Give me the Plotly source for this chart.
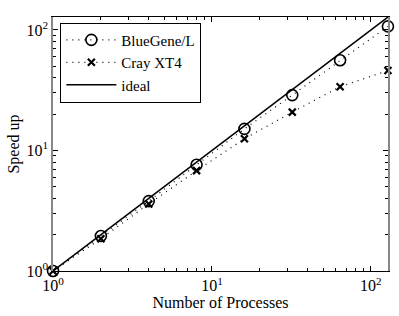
import math
import plotly.graph_objects as go

procs = [1, 2, 4, 8, 16, 32, 64, 128]
bluegene = [1, 1.95, 3.8, 7.6, 15.1, 28.8, 56, 107]
cray = [1, 1.85, 3.6, 6.8, 12.5, 20.8, 33.8, 46]
ideal = [1, 2, 4, 8, 16, 32, 64, 128]

major_vals = [1, 10, 100]
major_text = ["10<sup>0</sup>", "10<sup>1</sup>", "10<sup>2</sup>"]
minor_vals = [m * 10 ** e for e in range(0, 3) for m in range(2, 10) if m * 10 ** e <= 130]

font = "Liberation Serif"
fs = 16
rng = [-0.0003, math.log10(128) + 0.0003]

fig = go.Figure()
fig.add_trace(go.Scatter(x=procs, y=bluegene, name="BlueGene/L", mode="lines+markers", cliponaxis=False,
                         line=dict(color="black", dash="1px,5px", width=1.2),
                         marker=dict(symbol="circle-open", size=11, color="black", line=dict(width=1.6))))
fig.add_trace(go.Scatter(x=procs, y=cray, name="Cray XT4", mode="lines+markers", cliponaxis=False,
                         line=dict(color="black", dash="1px,5px", width=1.2),
                         marker=dict(symbol="x-thin-open", size=7, color="black", line=dict(width=2.2))))
fig.add_trace(go.Scatter(x=procs, y=ideal, name="ideal", mode="lines", cliponaxis=False,
                         line=dict(color="black", width=1.5)))

axis_common = dict(type="log", tickmode="array", tickvals=major_vals, ticktext=major_text,
                   ticks="inside", ticklen=5, tickcolor="black", showgrid=False, zeroline=False,
                   showline=True, mirror="ticks", automargin=False, range=rng,
                   minor=dict(tickmode="array", tickvals=minor_vals, ticks="inside", ticklen=3,
                              tickcolor="black", showgrid=False),
                   tickfont=dict(family=font, size=fs, color="black"))

fig.update_layout(
    width=399, height=316,
    margin=dict(l=53, r=11, t=17, b=45),
    paper_bgcolor="white", plot_bgcolor="white",
    font=dict(family=font, size=fs, color="black"),
    xaxis=dict(linecolor="black", linewidth=1.2,
               title=dict(text="Number of Processes", font=dict(family=font, size=fs), standoff=2),
               **axis_common),
    yaxis=dict(linecolor="#888888", linewidth=1.5,
               title=dict(text="Speed up", font=dict(family=font, size=fs), standoff=3),
               **axis_common),
    legend=dict(x=0.022, y=0.978, xanchor="left", yanchor="top", bgcolor="white",
                bordercolor="black", borderwidth=1, font=dict(family=font, size=15),
                tracegroupgap=0, itemwidth=50),
    showlegend=True,
)

fig.write_html("out.html", config={"displayModeBar": False},
               post_script="document.body.style.margin='0';")
